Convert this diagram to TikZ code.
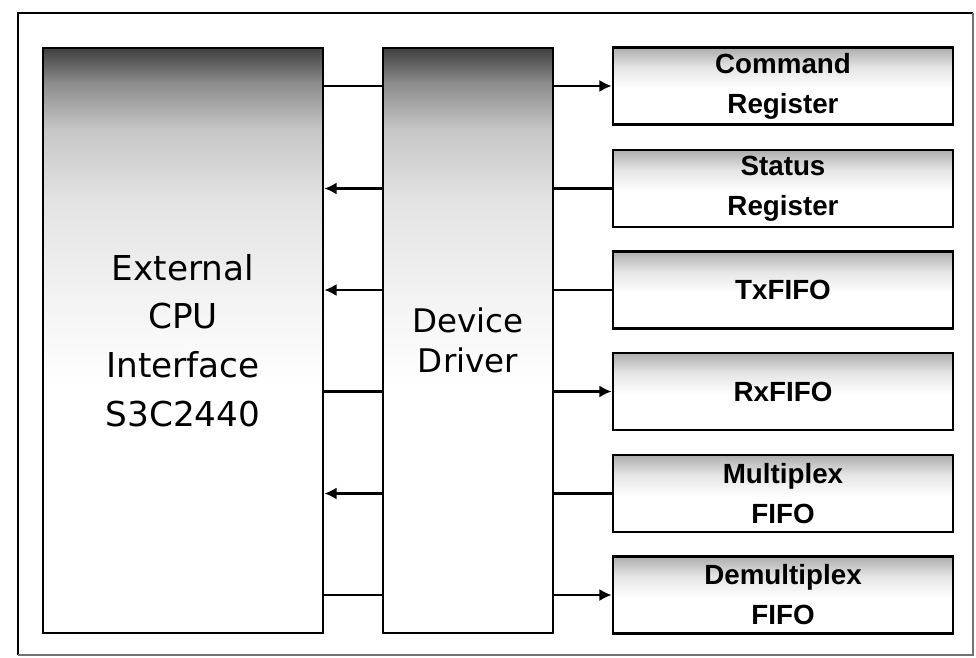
\documentclass[tikz,border=0pt]{standalone}
\usepackage{fontspec}
\usetikzlibrary{positioning,arrows.meta}
\newfontfamily\blockfont{DejaVu Sans}
\newfontfamily\regfont{Liberation Sans}

% vertical fades (bottom of the path sits at 25bp, top at 75bp)
\pgfdeclareverticalshading{darkfade}{100bp}{color(0bp)=(white); color(46bp)=(white); color(54bp)=(black!5); color(62bp)=(black!11); color(68bp)=(black!22); color(72bp)=(black!45); color(75bp)=(black!75); color(100bp)=(black!75)}
\pgfdeclareverticalshading{lightfade}{100bp}{color(0bp)=(white); color(48bp)=(white); color(62bp)=(black!10); color(75bp)=(black!32); color(100bp)=(black!32)}

\begin{document}
\begin{tikzpicture}[x=0.02cm, y=-0.02cm,
    bigblock/.style={rectangle, draw, line width=1.6pt, shading=darkfade, minimum height=11.7cm, align=center, inner sep=0pt},
    regblock/.style={rectangle, draw, line width=1.6pt, shading=lightfade, minimum width=6.8cm, minimum height=1.54cm, align=center, inner sep=0pt, font=\regfont\bfseries\fontsize{15.8pt}{22.7pt}\selectfont},
    link/.style={line width=1.6pt},
    arrowlink/.style={line width=1.6pt, -{Latex[length=7pt,width=7pt]}}]
    \useasboundingbox (0,0) rectangle (976,658);

    % Outer frame
    \draw[line width=1.6pt] (18,655) -- (18,13) -- (973,13);
    \draw[black!55, line width=0.6pt] (973,13) -- (973,655) -- (18,655);

    % Main blocks
    \node[bigblock, minimum width=5.6cm, font=\blockfont\fontsize{19.5pt}{27.8pt}\selectfont] (cpu) at (183, 340.5) {External\\CPU\\Interface\\S3C2440};
    \node[bigblock, minimum width=3.4cm, font=\blockfont\fontsize{18.5pt}{23.2pt}\selectfont] (driver) at (468, 340.5) {Device\\Driver};

    % Register and FIFO blocks (top to bottom)
    \node[regblock] (cmdreg) at (783, 86) {Command\\Register};
    \node[regblock] (statreg) at (783, 188.5) {Status\\Register};
    \node[regblock] (txfifo) at (783, 290) {TxFIFO};
    \node[regblock] (rxfifo) at (783, 391.5) {RxFIFO};
    \node[regblock] (muxfifo) at (783, 493.5) {Multiplex\\FIFO};
    \node[regblock] (demuxfifo) at (783, 595) {Demultiplex\\FIFO};

    % Draw connectors
    \draw[link] (cpu.east |- cmdreg) -- (driver.west |- cmdreg);
    \draw[arrowlink] (driver.east |- cmdreg) -- (cmdreg.west);

    \draw[link] (statreg.west) -- (driver.east |- statreg);
    \draw[arrowlink] (driver.west |- statreg) -- (cpu.east |- statreg);

    \draw[link] (txfifo.west) -- (driver.east |- txfifo);
    \draw[arrowlink] (driver.west |- txfifo) -- (cpu.east |- txfifo);

    \draw[link] (cpu.east |- rxfifo) -- (driver.west |- rxfifo);
    \draw[arrowlink] (driver.east |- rxfifo) -- (rxfifo.west);

    \draw[link] (muxfifo.west) -- (driver.east |- muxfifo);
    \draw[arrowlink] (driver.west |- muxfifo) -- (cpu.east |- muxfifo);

    \draw[link] (cpu.east |- demuxfifo) -- (driver.west |- demuxfifo);
    \draw[arrowlink] (driver.east |- demuxfifo) -- (demuxfifo.west);
\end{tikzpicture}
\end{document}
